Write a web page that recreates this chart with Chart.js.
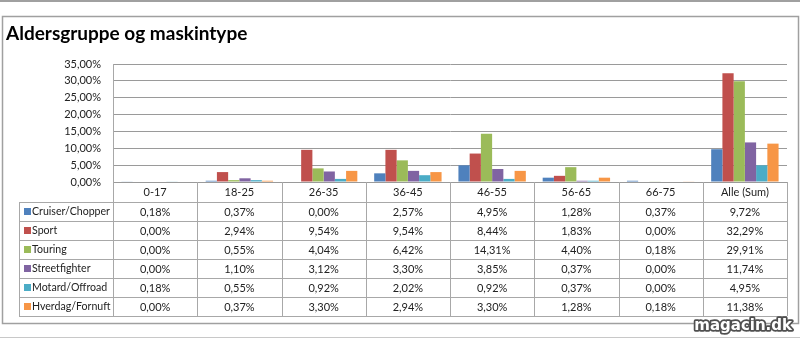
<!DOCTYPE html>
<html>
<head>
<meta charset="utf-8">
<script src="https://cdn.jsdelivr.net/npm/chart.js@4.4.1/dist/chart.umd.min.js"></script>
<style>
html,body{margin:0;padding:0;background:#fff;}
canvas{display:block;}
</style>
</head>
<body>
<canvas id="c" width="800" height="338"></canvas>
<script>
const chartTitle = 'Aldersgruppe og maskintype';
const categories = ['0-17','18-25','26-35','36-45','46-55','56-65','66-75','Alle (Sum)'];
const seriesNames = ['Cruiser/Chopper','Sport','Touring','Streetfighter','Motard/Offroad','Hverdag/Fornuft'];
const cruiser       = [0.18, 0.37, 0.00, 2.57, 4.95, 1.28, 0.37, 9.72];
const sport         = [0.00, 2.94, 9.54, 9.54, 8.44, 1.83, 0.00, 32.29];
const touring       = [0.00, 0.55, 4.04, 6.42, 14.31, 4.40, 0.18, 29.91];
const streetfighter = [0.00, 1.10, 3.12, 3.30, 3.85, 0.37, 0.00, 11.74];
const motard        = [0.18, 0.55, 0.92, 2.02, 0.92, 0.37, 0.00, 4.95];
const hverdag       = [0.00, 0.37, 3.30, 2.94, 3.30, 1.28, 0.18, 11.38];
const yMax = 35, yStep = 5;
const watermark = 'magacin.dk';

const seriesValues = [cruiser, sport, touring, streetfighter, motard, hverdag];
const colors = ['#4F81BD','#C0504D','#9BBB59','#8064A2','#4BACC6','#F79646'];
const FONT = 'Lato, "Open Sans", sans-serif';
const fmt = v => v.toFixed(2).replace('.', ',') + '%';

const ROW_H = 19;
const TABLE_LEFT = 19;
const LINE = '#a8a8a8';

const tablePlugin = {
  id: 'tablePlugin',
  beforeDraw(chart) {
    const ctx = chart.ctx;
    ctx.save();
    ctx.fillStyle = '#fff';
    ctx.fillRect(0, 0, chart.width, chart.height);
    ctx.strokeStyle = '#a0a0a0';
    ctx.lineWidth = 2;
    ctx.beginPath(); ctx.moveTo(0, 1); ctx.lineTo(800, 1); ctx.stroke();
    ctx.lineWidth = 1.5;
    ctx.strokeRect(2.5, 16.5, 796, 307);
    ctx.strokeStyle = '#c8c8c8';
    ctx.lineWidth = 1;
    ctx.beginPath(); ctx.moveTo(0, 337.5); ctx.lineTo(800, 337.5); ctx.stroke();
    ctx.restore();
  },
  afterDraw(chart) {
    const ctx = chart.ctx;
    const area = chart.chartArea;
    const xs = chart.scales.x;
    const n = categories.length;
    const colW = (area.right - area.left) / n;
    const headTop = area.bottom;
    const bodyTop = headTop + 20;
    const bodyBottom = bodyTop + ROW_H * seriesNames.length;
    ctx.save();
    ctx.strokeStyle = LINE;
    ctx.lineWidth = 1;
    const hx = v => Math.round(v) + 0.5;
    for (let r = 0; r <= seriesNames.length; r++) {
      const y = hx(bodyTop + r * ROW_H);
      ctx.beginPath(); ctx.moveTo(TABLE_LEFT, y); ctx.lineTo(area.right, y); ctx.stroke();
    }
    ctx.beginPath(); ctx.moveTo(hx(TABLE_LEFT), bodyTop); ctx.lineTo(hx(TABLE_LEFT), bodyBottom); ctx.stroke();
    ctx.beginPath(); ctx.moveTo(hx(area.left), headTop); ctx.lineTo(hx(area.left), bodyBottom); ctx.stroke();
    for (let k = 1; k <= n; k++) {
      const x = hx(area.left + k * colW);
      ctx.beginPath(); ctx.moveTo(x, headTop); ctx.lineTo(x, bodyBottom); ctx.stroke();
    }
    ctx.fillStyle = '#222';
    ctx.font = '11px ' + FONT;
    ctx.textAlign = 'center';
    ctx.textBaseline = 'middle';
    categories.forEach((c, i) => {
      ctx.fillText(c, xs.getPixelForValue(i), headTop + 10.5);
    });
    seriesNames.forEach((name, r) => {
      const yc = bodyTop + r * ROW_H + ROW_H / 2 + 0.5;
      ctx.fillStyle = colors[r];
      ctx.fillRect(24, Math.round(yc) - 4, 7, 7);
      ctx.fillStyle = '#222';
      ctx.textAlign = 'left';
      ctx.font = '10.6px ' + FONT;
      ctx.fillText(name, 32, yc);
      ctx.font = '11px ' + FONT;
      ctx.textAlign = 'center';
      seriesValues[r].forEach((v, i) => {
        ctx.fillText(fmt(v), xs.getPixelForValue(i), yc);
      });
    });
    ctx.font = 'bold 15px "DejaVu Sans", Verdana, sans-serif';
    ctx.textAlign = 'right';
    ctx.textBaseline = 'alphabetic';
    ctx.lineJoin = 'round';
    ctx.strokeStyle = '#505050';
    ctx.lineWidth = 3.5;
    ctx.strokeText(watermark, 792, 330);
    ctx.fillStyle = '#fff';
    ctx.fillText(watermark, 792, 330);
    ctx.restore();
  }
};

new Chart(document.getElementById('c'), {
  type: 'bar',
  data: {
    labels: categories,
    datasets: seriesNames.map((name, i) => ({
      label: name,
      data: seriesValues[i],
      backgroundColor: colors[i],
      borderWidth: 0,
      categoryPercentage: 0.8,
      barPercentage: 1.0
    }))
  },
  options: {
    responsive: false,
    animation: false,
    devicePixelRatio: 1,
    layout: { padding: { left: 6, right: 13, top: 0, bottom: 156 } },
    plugins: {
      legend: { display: false },
      tooltip: { enabled: false },
      title: {
        display: true,
        text: chartTitle,
        align: 'start',
        color: '#000',
        font: { family: FONT, size: 19, weight: 'bold', lineHeight: 1.2 },
        padding: { top: 22, bottom: 19.2 }
      }
    },
    scales: {
      x: { display: false },
      y: {
        min: 0, max: yMax,
        afterFit(scale) { scale.width = 107; },
        ticks: {
          stepSize: yStep,
          padding: 12,
          color: '#222',
          font: { family: FONT, size: 11 },
          callback: v => fmt(v)
        },
        grid: { color: '#9a9a9a', drawTicks: false, lineWidth: 1 },
        border: { display: true, color: LINE }
      }
    }
  },
  plugins: [tablePlugin]
});
</script>
</body>
</html>
